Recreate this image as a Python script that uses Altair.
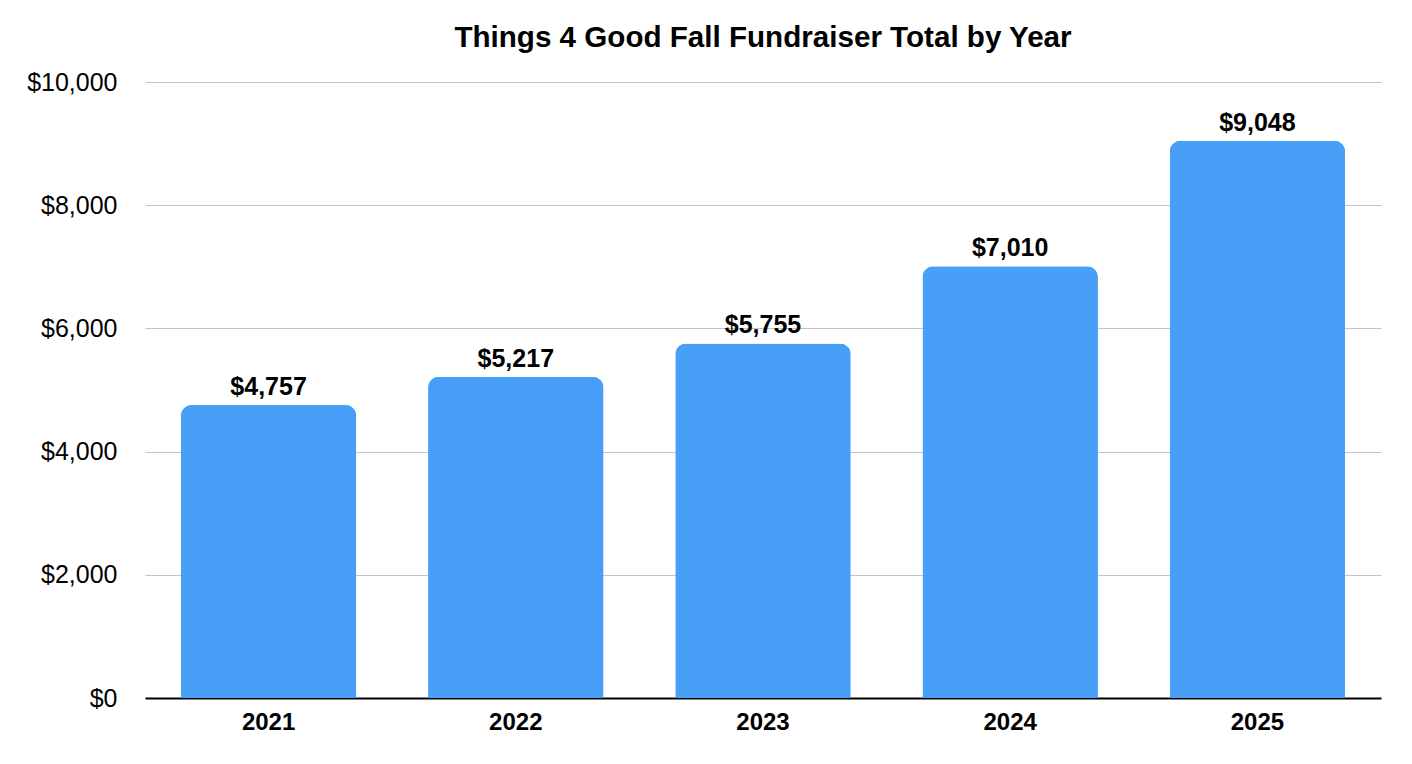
import altair as alt
import pandas as pd

years = ["2021", "2022", "2023", "2024", "2025"]
totals = [4757, 5217, 5755, 7010, 9048]

df = pd.DataFrame({"year": years, "total": totals})
df["label"] = ["$" + f"{v:,}" for v in totals]

FONT = "Liberation Sans"

base = alt.Chart(df).encode(
    x=alt.X("year:N", sort=years,
            scale=alt.Scale(paddingInner=0.29, paddingOuter=0.145),
            axis=alt.Axis(title=None, labelAngle=0, labelFont=FONT, labelFontSize=24,
                          labelFontWeight="bold", labelColor="#000000", labelPadding=12,
                          ticks=False, domainColor="#000000", domainWidth=2, grid=False)),
    y=alt.Y("total:Q", scale=alt.Scale(domain=[0, 10000], nice=False),
            axis=alt.Axis(title=None, values=[0, 2000, 4000, 6000, 8000, 10000],
                          labelExpr="'$' + format(datum.value, ',')",
                          labelFont=FONT, labelFontSize=25, labelColor="#000000",
                          labelPadding=28, ticks=False, domain=False,
                          gridColor="#c4c4c4", gridWidth=1)),
)

bars = base.mark_bar(color="#479FF8", cornerRadiusTopLeft=11, cornerRadiusTopRight=11)
text = base.mark_text(baseline="bottom", dy=-5, font=FONT, fontSize=25,
                      fontWeight="bold", color="#000000").encode(text="label:N")

chart = (bars + text).properties(
    width=1236, height=616,
    padding={"left": 137, "top": 74, "right": 23, "bottom": 58},
    autosize=alt.AutoSizeParams(type="none"),
    background="white",
    title=alt.TitleParams("Things 4 Good Fall Fundraiser Total by Year",
                          font=FONT, fontSize=29.6, fontWeight="bold", color="#000000",
                          anchor="middle", offset=16),
).configure_view(stroke=None)

chart.save("out.html", embed_options={"renderer": "svg", "actions": False})
